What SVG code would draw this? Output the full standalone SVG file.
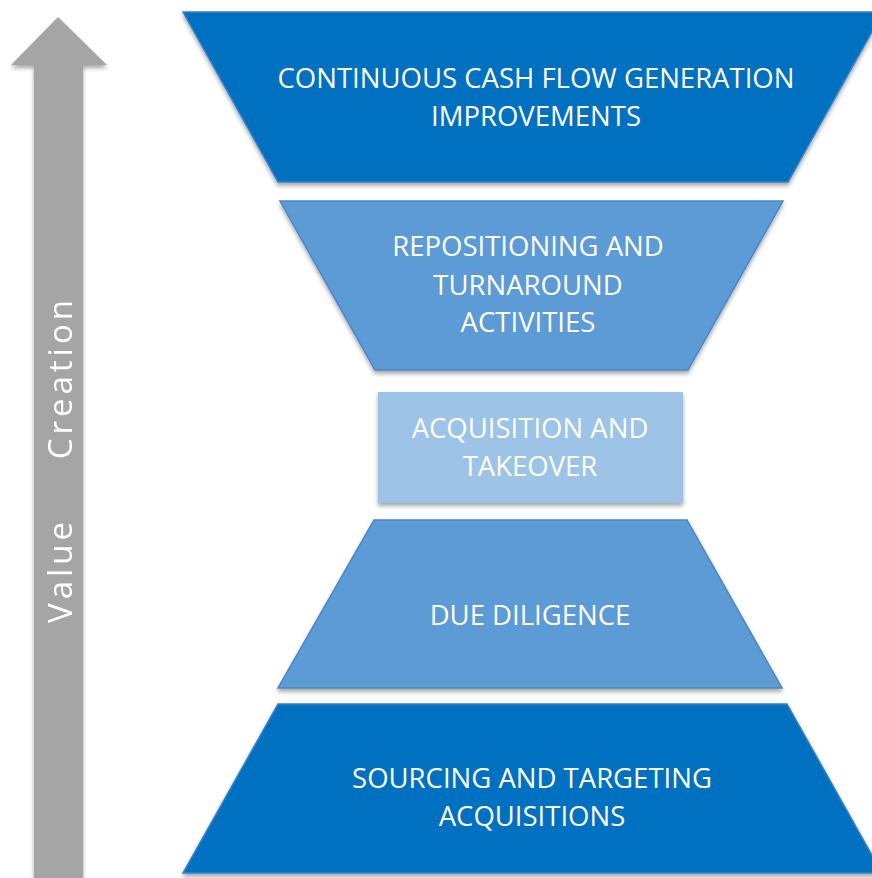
<svg xmlns="http://www.w3.org/2000/svg" width="872" height="878" viewBox="0 0 872 878">
<defs>
<filter id="sh" x="-10%" y="-10%" width="120%" height="130%">
<feDropShadow dx="0" dy="3" stdDeviation="2.2" flood-color="#000" flood-opacity="0.35"/>
</filter>
</defs>
<style>
.lbl{font-family:"Open Sans","Liberation Sans",sans-serif;font-size:27.5px;fill:#fff;text-anchor:middle}
.dark{fill:#0070C0;stroke:#3A80C8;stroke-width:1.5}
.mid{fill:#5B9BD5;stroke:#4A86C6;stroke-width:1.5}
.light{fill:#9DC3E6}
</style>
<rect width="872" height="878" fill="#fff"/>
<g id="arrow" filter="url(#sh)">
<polygon points="58,17 107,65 83,65 83,890 34,890 34,65 11,65" fill="#A5A5A5"/>
<text transform="translate(72,623) rotate(-90)" style="font-family:'Open Sans','Liberation Sans',sans-serif;font-size:33px;fill:#fff;letter-spacing:4px;word-spacing:46px">Value Creation</text>
</g>
<g id="n1">
<polygon class="dark" filter="url(#sh)" points="183,12 883,12 788,182 278,182"/>
<text class="lbl" x="536" y="88">CONTINUOUS CASH FLOW GENERATION</text>
<text class="lbl" x="536" y="126">IMPROVEMENTS</text>
</g>
<g id="n2">
<polygon class="mid" filter="url(#sh)" points="280,201 783,201 688,370 375,370"/>
<text class="lbl" x="528" y="256">REPOSITIONING AND</text>
<text class="lbl" x="528" y="295">TURNAROUND</text>
<text class="lbl" x="528" y="332">ACTIVITIES</text>
</g>
<g id="n3">
<rect class="light" filter="url(#sh)" x="378" y="392" width="305" height="111"/>
<text class="lbl" x="530" y="438">ACQUISITION AND</text>
<text class="lbl" x="530" y="476">TAKEOVER</text>
</g>
<g id="n4">
<polygon class="mid" filter="url(#sh)" points="374,520 687,520 782,688 278,688"/>
<text class="lbl" x="530" y="625">DUE DILIGENCE</text>
</g>
<g id="n5">
<polygon class="dark" filter="url(#sh)" points="278,704 787,704 882,873 183,873"/>
<text class="lbl" x="532" y="788">SOURCING AND TARGETING</text>
<text class="lbl" x="532" y="826">ACQUISITIONS</text>
</g>
<g id="connectors"></g>
</svg>
